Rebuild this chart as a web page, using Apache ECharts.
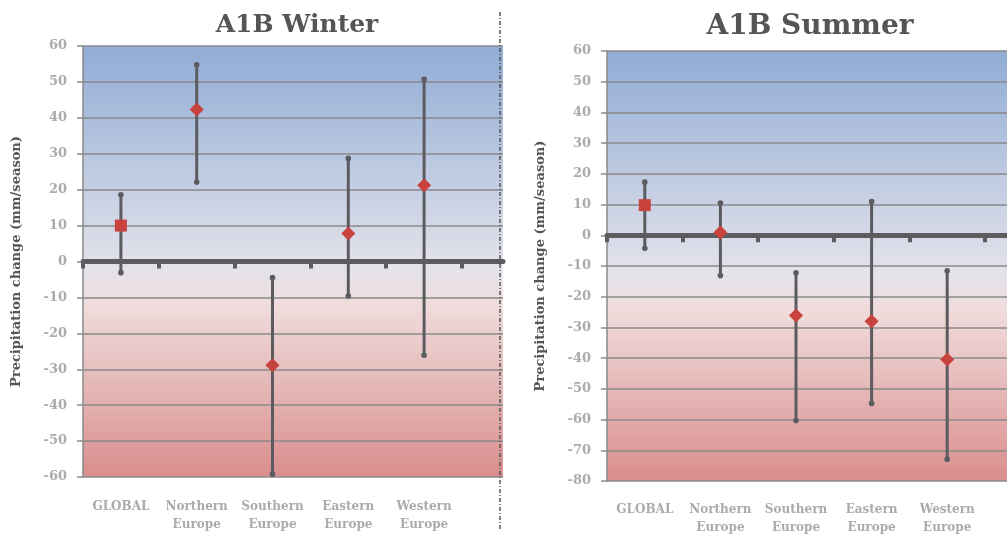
<!DOCTYPE html>
<html>
<head>
<meta charset="utf-8">
<script src="https://cdn.jsdelivr.net/npm/echarts@6/dist/echarts.min.js"></script>
<style>
html,body{margin:0;padding:0;background:#fff;}
#chart{width:1007px;height:537px;}
</style>
</head>
<body>
<div id="chart"></div>
<script>
// ---- data ----
const categories = ['GLOBAL', 'Northern\nEurope', 'Southern\nEurope', 'Eastern\nEurope', 'Western\nEurope'];
const winterMean = [10, 42.3, -28.9, 7.8, 21.2];
const winterHigh = [18.6, 54.8, -4.5, 28.7, 50.7];
const winterLow  = [-3.1, 22.1, -59.2, -9.6, -26.1];
const summerMean = [9.7, 0.8, -26.3, -28.2, -40.7];
const summerHigh = [17.2, 10.4, -12.4, 10.9, -11.7];
const summerLow  = [-4.4, -13.3, -60.6, -55.0, -73.2];
const winterTicks = [-60, -50, -40, -30, -20, -10, 0, 10, 20, 30, 40, 50, 60];
const summerTicks = [-80, -70, -60, -50, -40, -30, -20, -10, 0, 10, 20, 30, 40, 50, 60];
const titles = ['A1B Winter', 'A1B Summer'];
const yName = 'Precipitation change (mm/season)';

// ---- styles ----
const FONT = 'DejaVu Serif';
const dark = '#5c5c60';
const gridGray = '#8a8a8a';
const labelGray = '#ababab';
const red = '#c8423e';
const bg = {
  type: 'linear', x: 0, y: 0, x2: 0, y2: 1,
  colorStops: [
    {offset: 0, color: '#90acd5'},
    {offset: 0.52, color: '#e4e3eb'},
    {offset: 0.6, color: '#f0dcdc'},
    {offset: 1, color: '#d98e8d'}
  ]
};

function errRender(params, api) {
  const x = api.value(0);
  const lo = api.coord([x, api.value(1)]);
  const hi = api.coord([x, api.value(2)]);
  return {
    type: 'group',
    children: [
      {type: 'line', shape: {x1: lo[0], y1: lo[1], x2: hi[0], y2: hi[1]}, style: {stroke: dark, lineWidth: 3}},
      {type: 'circle', shape: {cx: lo[0], cy: lo[1], r: 2.8}, style: {fill: dark}},
      {type: 'circle', shape: {cx: hi[0], cy: hi[1], r: 2.8}, style: {fill: dark}}
    ]
  };
}

function bgXAxis(gridIndex, maxUnits) {
  return {
    gridIndex: gridIndex, type: 'value', min: 0, max: maxUnits, interval: 1,
    axisLine: {show: true, onZero: true, lineStyle: {color: dark, width: 5}},
    axisTick: {show: true, length: 7, customValues: [0, 1, 2, 3, 4, 5], lineStyle: {color: dark, width: 4}},
    axisLabel: {show: false},
    splitLine: {show: false}
  };
}
function bgYAxis(gridIndex, ticks, gap) {
  return {
    gridIndex: gridIndex, type: 'value', min: ticks[0], max: ticks[ticks.length - 1], interval: 10,
    name: yName, nameLocation: 'middle', nameGap: gap,
    nameTextStyle: {fontFamily: FONT, fontWeight: 'bold', fontSize: 13, color: '#555'},
    axisLine: {show: true, lineStyle: {color: gridGray, width: 1.5}},
    axisTick: {show: true, length: 6, lineStyle: {color: gridGray, width: 1.5}},
    axisLabel: {margin: 16, fontFamily: FONT, fontWeight: 'bold', fontSize: 13, color: labelGray},
    splitLine: {show: true, lineStyle: {color: gridGray, width: 1.5}}
  };
}
function catXAxis(gridIndex) {
  return {
    gridIndex: gridIndex, type: 'category', data: categories, boundaryGap: true, position: 'bottom',
    axisLine: {show: false, onZero: false}, axisTick: {show: false},
    axisLabel: {interval: 0, margin: 21, lineHeight: 18, fontFamily: FONT, fontWeight: 'bold', fontSize: 12, color: labelGray},
    splitLine: {show: false}
  };
}
function catYAxis(gridIndex, ticks) {
  return {gridIndex: gridIndex, type: 'value', min: ticks[0], max: ticks[ticks.length - 1], show: false, splitLine: {show: false}};
}
function meanData(arr) {
  return arr.map((v, i) => ({
    value: [i, v],
    symbol: i === 0 ? 'rect' : 'diamond',
    symbolSize: i === 0 ? 12 : 14
  }));
}

const chart = echarts.init(document.getElementById('chart'), null, {renderer: 'canvas'});
chart.setOption({
  animation: false,
  backgroundColor: '#fff',
  title: [
    {text: titles[0], left: 292, top: 8, textAlign: 'center',
     textStyle: {fontFamily: FONT, fontWeight: 'bold', fontSize: 25, color: '#555'}},
    {text: titles[1], left: 805, top: 8, textAlign: 'center',
     textStyle: {fontFamily: FONT, fontWeight: 'bold', fontSize: 28, color: '#555'}}
  ],
  grid: [
    {left: 83, top: 46, width: 420, height: 431, show: true, backgroundColor: bg, borderWidth: 0},
    {left: 83, top: 46, width: 379, height: 431},
    {left: 607, top: 51, width: 400, height: 430, show: true, backgroundColor: bg, borderWidth: 0},
    {left: 607, top: 51, width: 378, height: 430}
  ],
  xAxis: [bgXAxis(0, 420 / 75.8), catXAxis(1), bgXAxis(2, 400 / 75.6), catXAxis(3)],
  yAxis: [bgYAxis(0, winterTicks, 60), catYAxis(1, winterTicks), bgYAxis(2, summerTicks, 60), catYAxis(3, summerTicks)],
  graphic: [
    {type: 'line', shape: {x1: 500, y1: 12, x2: 500, y2: 530},
     style: {stroke: '#555', lineWidth: 1.5, lineDash: [4, 2, 1, 2]}, z: 100}
  ],
  series: [
    {type: 'custom', xAxisIndex: 1, yAxisIndex: 1, renderItem: errRender, z: 3,
     data: categories.map((c, i) => [i, winterLow[i], winterHigh[i]])},
    {type: 'scatter', xAxisIndex: 1, yAxisIndex: 1, z: 5, itemStyle: {color: red, opacity: 1},
     data: meanData(winterMean)},
    {type: 'custom', xAxisIndex: 3, yAxisIndex: 3, renderItem: errRender, z: 3,
     data: categories.map((c, i) => [i, summerLow[i], summerHigh[i]])},
    {type: 'scatter', xAxisIndex: 3, yAxisIndex: 3, z: 5, itemStyle: {color: red, opacity: 1},
     data: meanData(summerMean)}
  ]
});
</script>
</body>
</html>
